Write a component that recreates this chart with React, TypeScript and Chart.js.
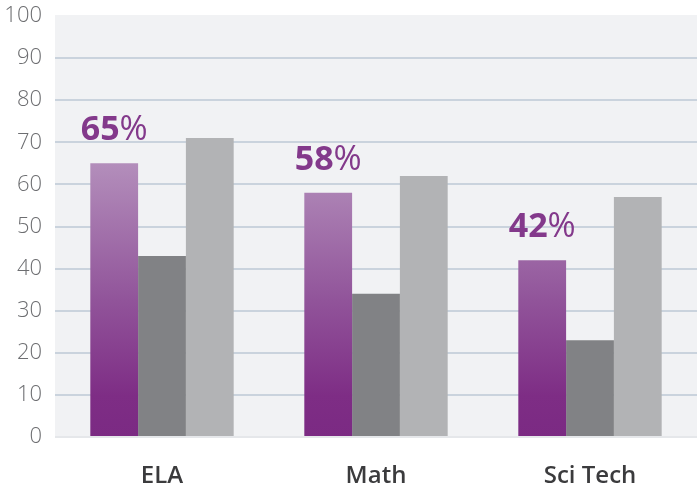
import React, { useEffect, useRef } from "react";
import { Chart, registerables } from "chart.js";

Chart.register(...registerables);

const categories = ["ELA", "Math", "Sci Tech"];
const purpleValues = [65, 58, 42];
const darkGrayValues = [43, 34, 23];
const lightGrayValues = [71, 62, 57];
const yTicks = [0, 10, 20, 30, 40, 50, 60, 70, 80, 90, 100];

const backgroundPlugin = {
  id: "plotBg",
  beforeDraw(chart: any) {
    const { ctx, chartArea } = chart;
    if (!chartArea) return;
    ctx.save();
    ctx.fillStyle = "#f1f2f4";
    ctx.fillRect(chartArea.left, chartArea.top - 1, chartArea.right - chartArea.left, chartArea.bottom - chartArea.top + 1);
    ctx.restore();
  },
};

const percentLabelPlugin = {
  id: "pctLabels",
  afterDatasetsDraw(chart: any) {
    const { ctx } = chart;
    const meta = chart.getDatasetMeta(0);
    ctx.save();
    ctx.fillStyle = "#83398b";
    ctx.textBaseline = "alphabetic";
    meta.data.forEach((bar: any, i: number) => {
      const num = String(purpleValues[i]);
      ctx.font = "700 34px 'Open Sans'";
      const wNum = ctx.measureText(num).width;
      ctx.font = "400 34px 'Open Sans'";
      const wPct = ctx.measureText("%").width;
      const total = wNum + wPct;
      const x0 = bar.x - total / 2;
      const y = bar.y - 23;
      ctx.textAlign = "left";
      ctx.font = "700 34px 'Open Sans'";
      ctx.fillText(num, x0, y);
      ctx.font = "400 34px 'Open Sans'";
      ctx.fillText("%", x0 + wNum, y);
    });
    ctx.restore();
  },
};

export default function App() {
  const canvasRef = useRef<HTMLCanvasElement | null>(null);

  useEffect(() => {
    document.body.style.margin = "0";
    const canvas = canvasRef.current;
    if (!canvas) return;

    const purpleGradient = (context: any) => {
      const chart = context.chart;
      const { ctx, chartArea, scales } = chart;
      if (!chartArea) return "#8a4290";
      const yTop = scales.y.getPixelForValue(65);
      const yBottom = scales.y.getPixelForValue(0);
      const g = ctx.createLinearGradient(0, yTop, 0, yBottom);
      g.addColorStop(0, "#b38ebb");
      g.addColorStop(0.5, "#91549a");
      g.addColorStop(0.85, "#7e2d85");
      g.addColorStop(1, "#7b2a83");
      return g;
    };

    const chart = new Chart(canvas, {
      type: "bar",
      data: {
        labels: categories,
        datasets: [
          {
            data: purpleValues,
            backgroundColor: purpleGradient,
            borderWidth: 0,
          },
          {
            data: darkGrayValues,
            backgroundColor: "#818285",
            borderWidth: 0,
          },
          {
            data: lightGrayValues,
            backgroundColor: "#b2b3b5",
            borderWidth: 0,
          },
        ],
      },
      options: {
        responsive: false,
        animation: false,
        layout: { padding: { top: 16, left: 0, right: 0, bottom: 0 } },
        plugins: {
          legend: { display: false },
          tooltip: { enabled: false },
        },
        datasets: {
          bar: { categoryPercentage: 0.67, barPercentage: 1 },
        },
        scales: {
          x: {
            grid: { display: false, drawTicks: false },
            border: { display: false },
            ticks: {
              padding: 25,
              color: "#3b3b3d",
              font: { family: "'Open Sans'", size: 24, weight: "600" },
            },
            afterFit(scale: any) {
              scale.height = 48;
              scale.paddingLeft = 0;
              scale.paddingRight = 0;
            },
          },
          y: {
            min: 0,
            max: 100,
            afterBuildTicks(scale: any) {
              scale.ticks = yTicks.map((v) => ({ value: v }));
            },
            grid: {
              drawTicks: false,
              lineWidth: 2,
              color: (ctx: any) => {
                const v = ctx.tick ? ctx.tick.value : null;
                if (v === 100) return "rgba(0,0,0,0)";
                if (v === 0) return "#e5e7ea";
                return "#cad3dd";
              },
            },
            border: { display: false },
            ticks: {
              padding: 13,
              color: "#6d6e71",
              font: { family: "'Open Sans'", size: 22, weight: "300" },
            },
            afterFit(scale: any) {
              scale.width = 55;
              scale.paddingTop = 0;
              scale.paddingBottom = 0;
            },
          },
        },
      },
      plugins: [backgroundPlugin, percentLabelPlugin],
    });

    return () => chart.destroy();
  }, []);

  return (
    <div style={{ position: "absolute", left: 0, top: 0 }}>
      <canvas ref={canvasRef} width={697} height={485} />
    </div>
  );
}
